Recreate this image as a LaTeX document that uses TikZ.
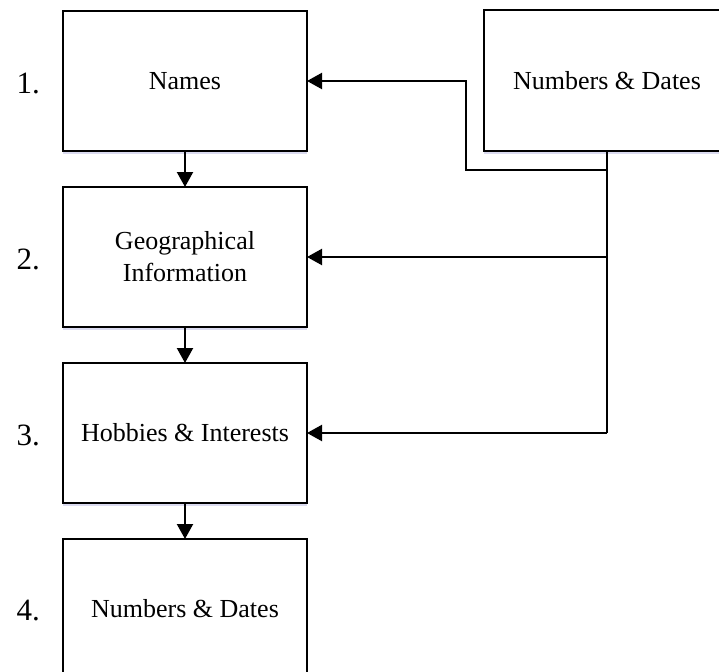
\documentclass[tikz,border=0pt]{standalone}
\usepackage{fontspec}
\setmainfont{Liberation Serif}
\usetikzlibrary{positioning,arrows.meta,shadows}

\tikzset{
  stage/.style={draw, line width=2.2pt, fill=white, outer sep=0pt,
    minimum width=244pt, minimum height=140pt, align=center,
    font=\fontsize{26}{32}\selectfont,
    drop shadow={shadow xshift=0pt, shadow yshift=-3pt, fill=blue!40!gray, opacity=0.2}},
  numlbl/.style={inner sep=0pt, font=\fontsize{31}{36}\selectfont},
  link/.style={line width=2.2pt},
  arr/.style={line width=2.2pt, -{Triangle[length=15pt,width=16pt]}}
}

\begin{document}
\begin{tikzpicture}[x=1pt,y=1pt]
\useasboundingbox (0,0) rectangle (719,-671);

\node[stage] (b1) at (185,-81) {Names};
\node[stage, below=36pt of b1] (b2) {Geographical\\Information};
\node[stage, below=36pt of b2] (b3) {Hobbies \& Interests};
\node[stage, below=36pt of b3] (b4) {Numbers \& Dates};
% right box runs past the edge of the picture
\node[stage, anchor=west, minimum width=246pt, minimum height=141pt] (nd) at (484,-80.5)
  {Numbers \& Dates};

\node[numlbl, left=23pt of b1, yshift=-2pt] (n1) {1.};
\node[numlbl, left=23pt of b2, yshift=-2pt] (n2) {2.};
\node[numlbl, left=23pt of b3, yshift=-2pt] (n3) {3.};
\node[numlbl, left=23pt of b4, yshift=-2pt] (n4) {4.};

\draw[arr] (b1) -- (b2);
\draw[arr] (b2) -- (b3);
\draw[arr] (b3) -- (b4);

\coordinate (tap) at (nd.south);
\coordinate (j1) at ([yshift=-19pt]nd.south);
\coordinate (bend) at (466,-81);
\draw[link] (tap) -- (tap |- b3.east);
\draw[arr] (j1) -| (bend) -- (b1.east);
\draw[arr] (tap |- b2.east) -- (b2.east);
\draw[arr] (tap |- b3.east) -- (b3.east);
\end{tikzpicture}
\end{document}
